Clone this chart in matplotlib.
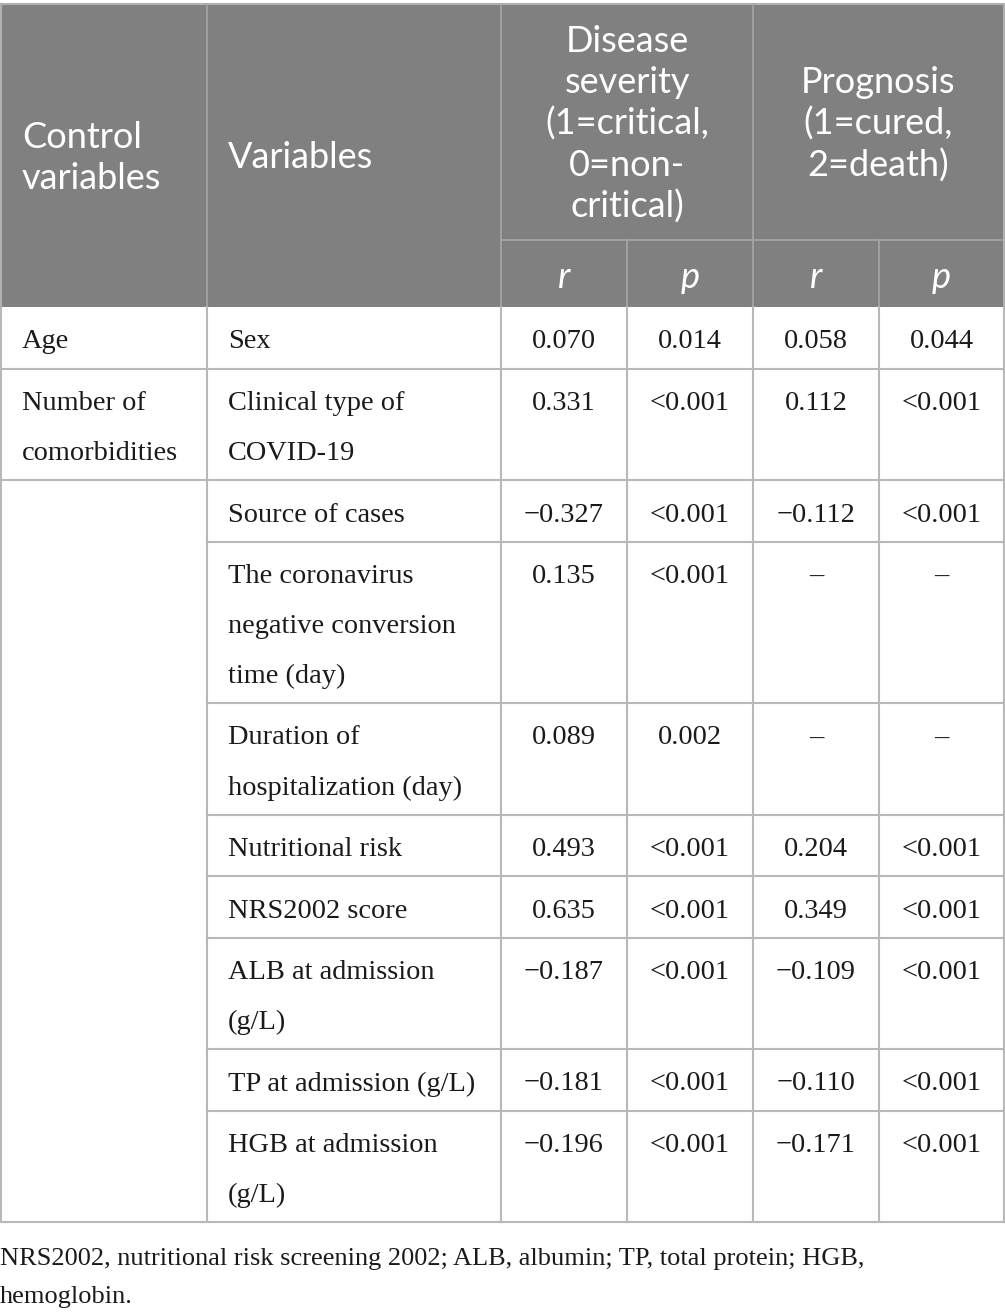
import matplotlib
matplotlib.use("Agg")
import matplotlib.pyplot as plt
from matplotlib.patches import Rectangle

# ---- table content ----
control_vars = ["Age", "Number of\ncomorbidities", "", "", "", "", "", "", "", ""]
variables = [
    "Sex",
    "Clinical type of\nCOVID-19",
    "Source of cases",
    "The coronavirus\nnegative conversion\ntime (day)",
    "Duration of\nhospitalization (day)",
    "Nutritional risk",
    "NRS2002 score",
    "ALB at admission\n(g/L)",
    "TP at admission (g/L)",
    "HGB at admission\n(g/L)",
]
severity_r = ["0.070", "0.331", "\u22120.327", "0.135", "0.089", "0.493", "0.635",
              "\u22120.187", "\u22120.181", "\u22120.196"]
severity_p = ["0.014", "<0.001", "<0.001", "<0.001", "0.002", "<0.001", "<0.001",
              "<0.001", "<0.001", "<0.001"]
prognosis_r = ["0.058", "0.112", "\u22120.112", "\u2013", "\u2013", "0.204", "0.349",
               "\u22120.109", "\u22120.110", "\u22120.171"]
prognosis_p = ["0.044", "<0.001", "<0.001", "\u2013", "\u2013", "<0.001", "<0.001",
               "<0.001", "<0.001", "<0.001"]
header_top = ["Control\nvariables", "Variables",
              "Disease\nseverity\n(1=critical,\n0=non-\ncritical)",
              "Prognosis\n(1=cured,\n2=death)"]
sub_header = ["r", "p", "r", "p"]
footnote = ("NRS2002, nutritional risk screening 2002; ALB, albumin; TP, total protein; HGB,\n"
            "hemoglobin.")

# ---- layout (pixels) ----
W, H = 1005, 1313
col_x = [1, 207, 501, 627, 753, 879, 1004]
top, mid, hdr_bot = 4, 240, 307
line_h = 50
head_lh = 41.5
hdr_bg = "#808080"
hdr_line = "#a6a6a6"
grid = "#b8b8b8"
serif = "Liberation Serif"
sans = "Lato"
fs_body = 20.4
fs_head = 26

fig = plt.figure(figsize=(W / 100, H / 100), dpi=100)
ax = fig.add_axes([0, 0, 1, 1])
ax.set_xlim(0, W)
ax.set_ylim(H, 0)
ax.axis("off")


def lines(x, y_center, s, lh, **kw):
    parts = s.split("\n")
    y0 = y_center - lh * (len(parts) - 1) / 2
    for k, p in enumerate(parts):
        ax.text(x, y0 + k * lh, p, va="center", **kw)


# header background
ax.add_patch(Rectangle((col_x[0], top), col_x[-1] - col_x[0], hdr_bot - top,
                       facecolor=hdr_bg, edgecolor="none"))
ax.plot([col_x[0], col_x[-1]], [top, top], color="#b0b0b0", lw=1.5)
for x in col_x[1:-1]:
    y0 = top if x in (col_x[1], col_x[2], col_x[4]) else mid
    ax.plot([x, x], [y0, hdr_bot], color=hdr_line, lw=1.2)
ax.plot([col_x[2], col_x[-1]], [mid, mid], color=hdr_line, lw=1.2)

hkw = dict(color="white", fontsize=fs_head, family=sans)
lines(22, 158, header_top[0], head_lh, ha="left", **hkw)
lines(228, 158, header_top[1], head_lh, ha="left", **hkw)
lines((col_x[2] + col_x[4]) / 2, 124, header_top[2], head_lh, ha="center", **hkw)
lines((col_x[4] + col_x[6]) / 2, 124, header_top[3], head_lh, ha="center", **hkw)
for i, s in enumerate(sub_header):
    ax.text((col_x[i + 2] + col_x[i + 3]) / 2, 277, s, style="italic",
            ha="center", va="center", **hkw)

# body rows
bkw = dict(fontsize=fs_body, family=serif, color="#1a1a1a")
y = hdr_bot
row_tops = []
for i, v in enumerate(variables):
    n = max(v.count("\n"), control_vars[i].count("\n")) + 1
    row_tops.append(y)
    ty = y + 35
    for k, part in enumerate(control_vars[i].split("\n")):
        ax.text(22, ty + k * line_h, part, ha="left", va="center", **bkw)
    for k, part in enumerate(v.split("\n")):
        ax.text(228, ty + k * line_h, part, ha="left", va="center", **bkw)
    for j, col in enumerate([severity_r, severity_p, prognosis_r, prognosis_p]):
        ax.text((col_x[j + 2] + col_x[j + 3]) / 2, ty, col[i], ha="center",
                va="center", **bkw)
    y += 11.5 + line_h * n
body_bot = y

# body grid lines
for i, yt in enumerate(row_tops[1:], start=1):
    x0 = col_x[0] if i <= 2 else col_x[1]
    ax.plot([x0, col_x[-1]], [yt, yt], color=grid, lw=1.5)
ax.plot([col_x[0], col_x[-1]], [body_bot, body_bot], color=grid, lw=1.5)
for x in col_x:
    ax.plot([x, x], [hdr_bot, body_bot], color=grid, lw=1.5)
ax.plot([col_x[0], col_x[0]], [top, hdr_bot], color="#b0b0b0", lw=1.5)
ax.plot([col_x[-1], col_x[-1]], [top, hdr_bot], color="#b0b0b0", lw=1.5)

# footnote
for k, part in enumerate(footnote.split("\n")):
    ax.text(0, 1259 + k * 38, part, ha="left", va="center",
            fontsize=19, family=serif, color="#1a1a1a")

fig.savefig("out.png", dpi=100)
